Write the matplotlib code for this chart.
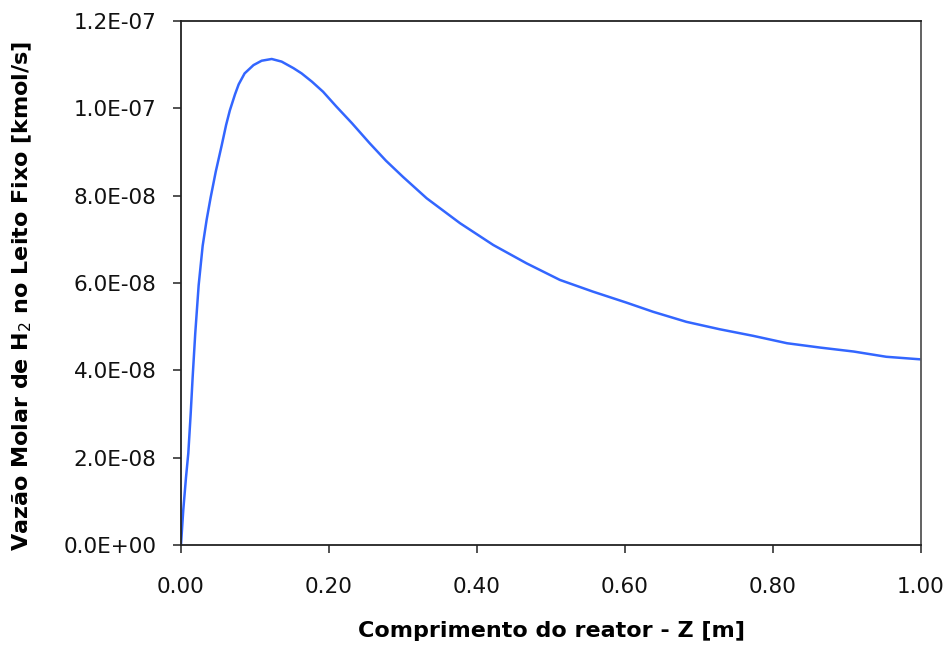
import matplotlib
matplotlib.use("Agg")
import matplotlib.pyplot as plt
from matplotlib.ticker import FuncFormatter

# H2 molar flow along the fixed bed
z = [0.0, 0.0031, 0.0068, 0.0099, 0.0131, 0.0158, 0.0193, 0.0239, 0.0293, 0.0347,
     0.040, 0.047, 0.055, 0.061, 0.066, 0.073, 0.078, 0.086, 0.098, 0.109,
     0.1226, 0.136, 0.152, 0.163, 0.177, 0.192, 0.210, 0.231, 0.255, 0.277,
     0.300, 0.332, 0.377, 0.422, 0.467, 0.512, 0.557, 0.602, 0.638, 0.683,
     0.728, 0.773, 0.819, 0.864, 0.909, 0.953, 1.0]
h2_flow = [0.0, 0.8e-8, 1.55e-8, 2.1e-8, 3.0e-8, 3.85e-8, 4.85e-8, 5.95e-8, 6.85e-8, 7.45e-8,
           7.95e-8, 8.55e-8, 9.15e-8, 9.62e-8, 0.995e-7, 1.032e-7, 1.055e-7, 1.08e-7, 1.099e-7, 1.109e-7,
           1.113e-7, 1.107e-7, 1.092e-7, 1.080e-7, 1.061e-7, 1.038e-7, 1.004e-7, 9.66e-8, 9.2e-8, 8.8e-8,
           8.43e-8, 7.94e-8, 7.37e-8, 6.87e-8, 6.45e-8, 6.07e-8, 5.80e-8, 5.55e-8, 5.34e-8, 5.11e-8,
           4.94e-8, 4.79e-8, 4.62e-8, 4.52e-8, 4.43e-8, 4.31e-8, 4.25e-8]

x_ticks = [0.0, 0.2, 0.4, 0.6, 0.8, 1.0]
y_ticks = [0.0, 2e-8, 4e-8, 6e-8, 8e-8, 1e-7, 1.2e-7]


def sci_label(v, pos):
    mant, exp = ("%.1E" % v).split("E")
    return "%sE%s%02d" % (mant, exp[0], abs(int(exp)))


fig = plt.figure(figsize=(9.5, 6.48), dpi=100)
ax = fig.add_axes([0.1905, 0.159, 0.779, 0.8086])

ax.plot(z, h2_flow, color="#3366ff", lw=1.8, solid_joinstyle="round")

ax.set_xlim(0, 1.0)
ax.set_ylim(0, 1.2e-7)
ax.set_xticks(x_ticks)
ax.set_yticks(y_ticks)
ax.xaxis.set_major_formatter(FuncFormatter(lambda v, p: "%.2f" % v))
ax.yaxis.set_major_formatter(FuncFormatter(sci_label))

for lab in ax.get_xticklabels() + ax.get_yticklabels():
    lab.set_fontfamily("DejaVu Sans")
    lab.set_fontsize(15.5)
    lab.set_color("#111111")

ax.tick_params(axis="both", direction="out", length=6, width=1.2, color="#333333")
ax.tick_params(axis="x", pad=17)
ax.tick_params(axis="y", pad=11.5)

for side in ("left", "bottom", "top"):
    ax.spines[side].set_linewidth(1.3)
    ax.spines[side].set_color("#222222")
ax.spines["right"].set_linewidth(1.3)
ax.spines["right"].set_color("#555555")

ax.set_xlabel("Comprimento do reator - Z [m]", fontsize=16, fontweight="bold",
              family="DejaVu Sans")
ax.set_ylabel("Vazão Molar de H$_2$ no Leito Fixo [kmol/s]", fontsize=16,
              fontweight="bold", family="DejaVu Sans")
ax.xaxis.set_label_coords(0.5, -0.145)
ax.yaxis.set_label_coords(-0.199, 0.476)

fig.savefig("out.png", dpi=100)
